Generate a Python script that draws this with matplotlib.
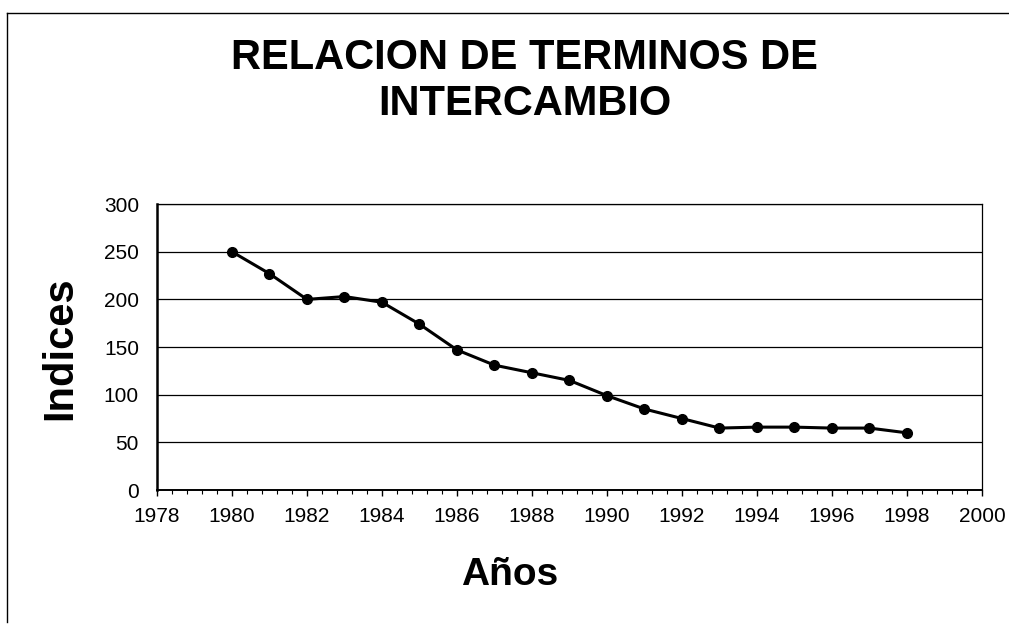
import numpy as np
import matplotlib.pyplot as plt
from matplotlib.lines import Line2D
from matplotlib.ticker import MultipleLocator

plt.rcParams['font.family'] = ['Liberation Sans', 'DejaVu Sans']

anios = [1980, 1981, 1982, 1983, 1984, 1985, 1986, 1987, 1988, 1989,
         1990, 1991, 1992, 1993, 1994, 1995, 1996, 1997, 1998]
indices = [250, 227, 200, 203, 197, 174, 147, 131, 123, 115,
           99, 85, 75, 65, 66, 66, 65, 65, 60]
y_ticks = [0, 50, 100, 150, 200, 250, 300]
x_ticks = list(range(1978, 2001, 2))

fig = plt.figure(figsize=(10.09, 6.28), dpi=100)
ax = fig.add_axes([0.1556, 0.2197, 0.8176, 0.4553])

ax.plot(anios, indices, color='black', lw=2.2, marker='o', ms=7,
        markerfacecolor='black', markeredgecolor='black')

ax.set_xlim(1978, 2000)
ax.set_ylim(0, 300)
ax.set_xticks(x_ticks)
ax.set_yticks(y_ticks)
ax.xaxis.set_minor_locator(MultipleLocator(0.4))
ax.yaxis.grid(True, color='black', lw=0.9)
ax.set_axisbelow(True)

ax.tick_params(axis='x', which='major', length=4, width=1, pad=8,
               labelsize=15, direction='out')
ax.tick_params(axis='x', which='minor', length=3, width=0.8, direction='out')
ax.tick_params(axis='y', length=0, pad=13, labelsize=15)

for side in ['top', 'right']:
    ax.spines[side].set_linewidth(0.9)
ax.spines['left'].set_linewidth(1.8)
ax.spines['bottom'].set_linewidth(1.4)

fig.text(0.52, 0.907, 'RELACION DE TERMINOS DE', ha='center', va='center',
         fontsize=30, fontweight='bold')
fig.text(0.52, 0.834, 'INTERCAMBIO', ha='center', va='center',
         fontsize=30, fontweight='bold')
fig.text(0.06, 0.445, 'Indices', ha='center', va='center', rotation=90,
         fontsize=30, fontweight='bold')
fig.text(0.505, 0.084, 'Años', ha='center', va='center',
         fontsize=28, fontweight='bold')

# borde del recuadro escaneado (arriba e izquierda)
fig.add_artist(Line2D([0.007, 1.0], [0.979, 0.979], transform=fig.transFigure,
                      color='black', lw=1))
fig.add_artist(Line2D([0.007, 0.007], [0.979, 0.01], transform=fig.transFigure,
                      color='black', lw=1))

fig.savefig('out.png', dpi=100)
